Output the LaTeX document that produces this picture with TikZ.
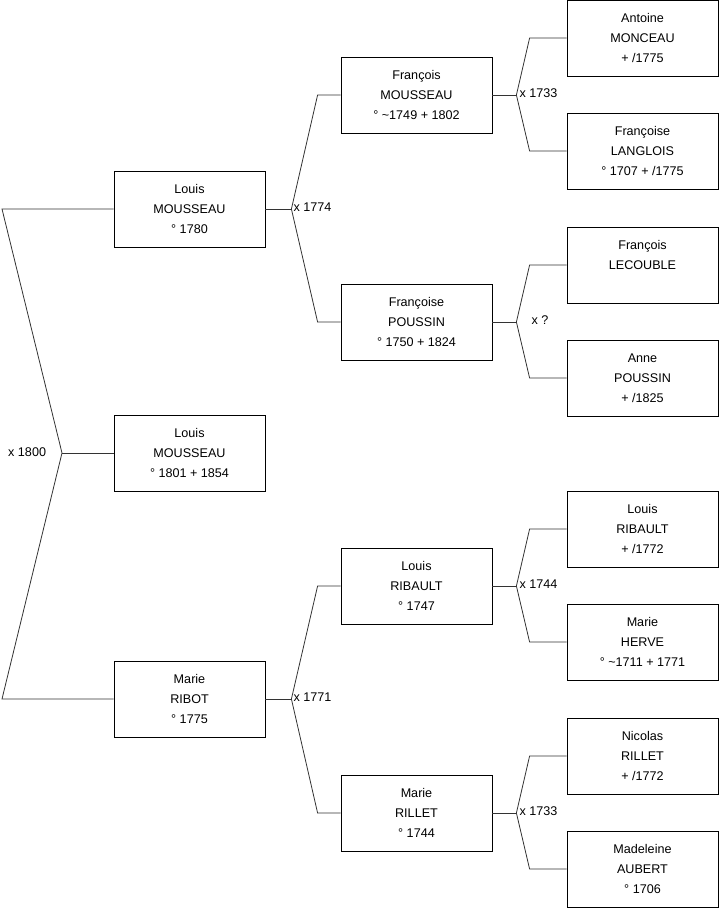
\documentclass[tikz,border=0pt]{standalone}
\usepackage{fontspec}
\setmainfont{Liberation Sans}
\usetikzlibrary{positioning}

\begin{document}
\begin{tikzpicture}[
  x=1pt, y=-1pt,
  font=\fontsize{12.6}{20}\selectfont,
  person/.style={draw, line width=0.8pt, align=center, minimum width=151pt, minimum height=76pt, inner sep=0pt},
  link/.style={draw=black!80, line width=0.8pt},
  wed/.style={anchor=west, inner sep=0pt}]
  \useasboundingbox (0,0) rectangle (719,908);
  % generation 1
  \node[person] (lm) at (189.5,209) {Louis\\ MOUSSEAU\\ ° 1780};
  \node[person] (ls) at (189.5,453) {Louis\\ MOUSSEAU\\ ° 1801 + 1854};
  \node[person] (mr) at (189.5,699) {Marie\\ RIBOT\\ ° 1775};
  % generation 2
  \node[person] (fm) at (416.5,95) {François\\ MOUSSEAU\\ ° \textasciitilde 1749 + 1802};
  \node[person] (fp) at (416.5,322) {Françoise\\ POUSSIN\\ ° 1750 + 1824};
  \node[person] (lr) at (416.5,586) {Louis\\ RIBAULT\\ ° 1747};
  \node[person] (mri) at (416.5,813) {Marie\\ RILLET\\ ° 1744};
  % generation 3
  \node[person] (am) at (642.5,38) {Antoine\\ MONCEAU\\ + /1775};
  \node[person] (fl) at (642.5,151) {Françoise\\ LANGLOIS\\ ° 1707 + /1775};
  \node[person] (flc) at (642.5,265) {François\\ LECOUBLE\\ \mbox{}};
  \node[person] (ap) at (642.5,378) {Anne\\ POUSSIN\\ + /1825};
  \node[person] (lrb) at (642.5,529) {Louis\\ RIBAULT\\ + /1772};
  \node[person] (mh) at (642.5,642) {Marie\\ HERVE\\ ° \textasciitilde 1711 + 1771};
  \node[person] (nr) at (642.5,756) {Nicolas\\ RILLET\\ + /1772};
  \node[person] (ma) at (642.5,869) {Madeleine\\ AUBERT\\ ° 1706};

  % root fork
  \coordinate (r) at (62,453);
  \draw[link] (lm.west) -- (2,209) -- (r) -- (2,699) -- (mr.west);
  \draw[link] (r) -- (ls.west);
  \node[wed] (w0) at (8,452) {x 1800};

  % forks, one per couple
  \foreach \kid/\dad/\mum/\yr/\ax/\bx/\dx/\nm in {lm/fm/fp/{x 1774}/26/23/2/w1, mr/lr/mri/{x 1771}/26/23/2/w2,
      fm/am/fl/{x 1733}/24/37/3/w3, fp/flc/ap/{x ?}/24/37/15/w4, lr/lrb/mh/{x 1744}/24/37/3/w5, mri/nr/ma/{x 1733}/24/37/3/w6}{
    \draw[link] (\kid.east) -- ++(\ax,0) coordinate (\kid-v);
    \draw[link] (\kid-v) -- ([xshift=-\bx pt]\dad.west) -- (\dad.west);
    \draw[link] (\kid-v) -- ([xshift=-\bx pt]\mum.west) -- (\mum.west);
    \node[wed] (\nm) at ([xshift=\dx pt,yshift=1.5pt]\kid-v) {\yr};
  }
\end{tikzpicture}
\end{document}
